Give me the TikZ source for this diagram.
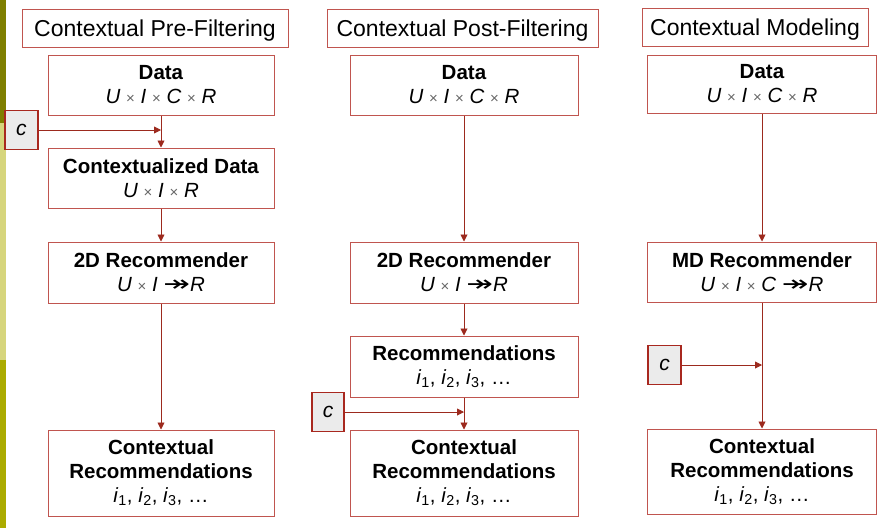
\documentclass[tikz,border=0pt]{standalone}
\usepackage{fontspec}
\setmainfont{Liberation Sans}
\newfontfamily\arrowfont{DejaVu Sans}
\usetikzlibrary{positioning,arrows.meta}
\tikzset{>=Stealth}
\definecolor{boxred}{HTML}{C0554F}
\definecolor{arrred}{HTML}{9C2A1E}
\definecolor{cred}{HTML}{A8281F}
\definecolor{barone}{HTML}{7F7F00}
\definecolor{bartwo}{HTML}{D6D57C}
\definecolor{barthree}{HTML}{ABAB00}
\newcommand{\tms}{ {\color{black!60}\fontsize{15}{15}\selectfont×} }
\newcommand{\tofun}{ \scalebox{1.45}[1]{\arrowfont\fontsize{22}{22}\selectfont ↠}}
\newcommand{\ilist}{\textit{i}\textsubscript{1}, \textit{i}\textsubscript{2}, \textit{i}\textsubscript{3}, \dots}

\begin{document}
\begin{tikzpicture}[x=1pt,y=-1pt,
  title/.style={draw=boxred,line width=1pt,minimum height=38pt,inner sep=0pt,
    text height=17pt,text depth=0pt,font=\fontsize{23}{27}\selectfont},
  box/.style={draw=boxred,line width=1pt,minimum width=226pt,minimum height=60pt,
    inner sep=0pt,align=center,font=\fontsize{20.5}{24}\selectfont},
  cbox/.style={draw=cred,line width=1.6pt,fill=black!8,minimum width=33pt,
    minimum height=39pt,inner sep=0pt,text height=11pt,text depth=0pt,
    font=\fontsize{21}{25}\selectfont\itshape},
  flow/.style={draw=arrred,line width=0.9pt,-{Triangle[length=7pt,width=7pt]}}]
\useasboundingbox (0,0) rectangle (896,528);
% side bar
\fill[barone] (0,0) rectangle (6,123);
\fill[bartwo] (0,123) rectangle (6,360);
\fill[barthree] (0,360) rectangle (6,528);

% pre-filtering
\node[title,minimum width=266pt] (tpre) at (155,28) {Contextual Pre-Filtering};
\node[box] (data1) at (161,85) {\textbf{Data}\\\textit{U}\tms\textit{I}\tms\textit{C}\tms\textit{R}};
\node[box] (cdata) at (161,178) {\textbf{Contextualized Data}\\\textit{U}\tms\textit{I}\tms\textit{R}};
\node[box,minimum height=61pt] (rec1) at (161,272.5) {\textbf{2D Recommender}\\\textit{U}\tms\textit{I}\tofun\textit{R}};
\node[box,minimum height=86pt] (crec1) at (161,473) {\textbf{Contextual}\\\textbf{Recommendations}\\\ilist};
\node[cbox] (c1) at (21.5,130) {c};
\draw[flow] (data1) -- (cdata) coordinate[pos=0.45] (m1);
\draw[flow] (c1) -- (c1 -| m1);
\draw[flow] (cdata) -- (rec1);
\draw[flow] (rec1) -- (crec1);

% post-filtering
\node[title,minimum width=271pt] (tpost) at (462.5,28) {Contextual Post-Filtering};
\node[box,minimum width=228pt] (data2) at (464,85) {\textbf{Data}\\\textit{U}\tms\textit{I}\tms\textit{C}\tms\textit{R}};
\node[box,minimum width=228pt,minimum height=61pt] (rec2) at (464,272.5) {\textbf{2D Recommender}\\\textit{U}\tms\textit{I}\tofun\textit{R}};
\node[box,minimum width=228pt,minimum height=61pt] (recs) at (464,366.5) {\textbf{Recommendations}\\\ilist};
\node[box,minimum width=228pt,minimum height=86pt] (crec2) at (464,473) {\textbf{Contextual}\\\textbf{Recommendations}\\\ilist};
\node[cbox,minimum width=32pt] (c2) at (328,412) {c};
\draw[flow] (data2) -- (rec2);
\draw[flow] (rec2) -- (recs);
\draw[flow] (recs) -- (crec2) coordinate[pos=0.5] (m2);
\draw[flow] (c2) -- (c2 -| m2);

% modeling
\node[title,minimum width=226pt] (tmod) at (755,27) {Contextual Modeling};
\node[box,minimum width=229pt,minimum height=58pt] (data3) at (762,84) {\textbf{Data}\\\textit{U}\tms\textit{I}\tms\textit{C}\tms\textit{R}};
\node[box,minimum width=229pt] (rec3) at (762,272) {\textbf{MD Recommender}\\\textit{U}\tms\textit{I}\tms\textit{C}\tofun\textit{R}};
\node[box,minimum width=229pt,minimum height=85pt] (crec3) at (762,471.5) {\textbf{Contextual}\\\textbf{Recommendations}\\\ilist};
\node[cbox] (c3) at (664.5,365) {c};
\draw[flow] (data3) -- (rec3);
\draw[flow] (rec3) -- (crec3) coordinate[pos=0.5] (m3);
\draw[flow] (c3) -- (c3 -| m3);
\end{tikzpicture}
\end{document}
